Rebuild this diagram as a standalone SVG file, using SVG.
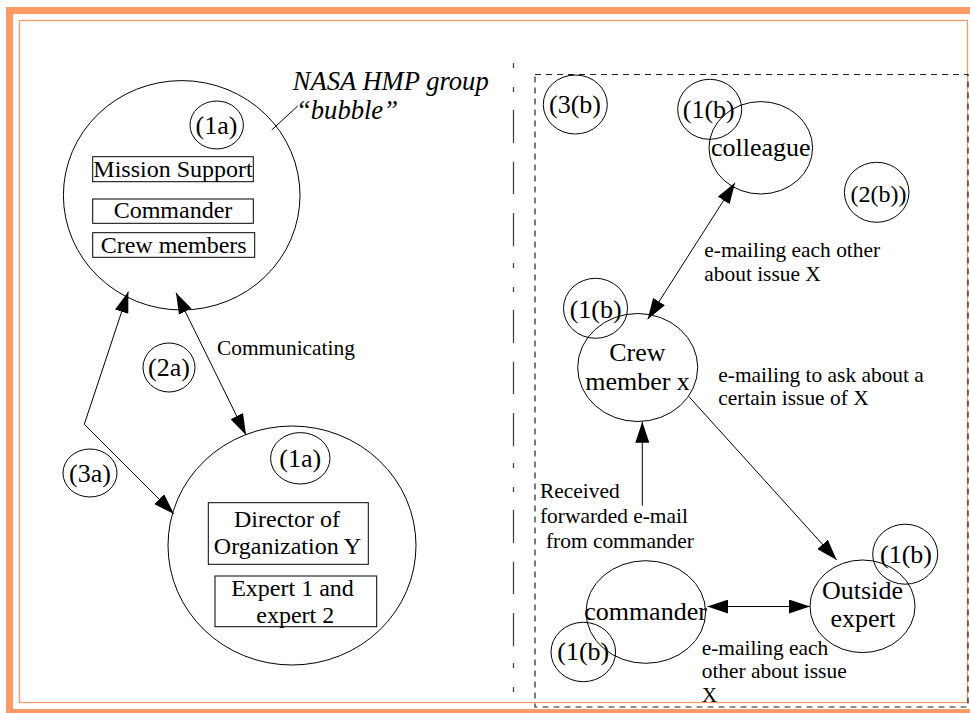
<svg xmlns="http://www.w3.org/2000/svg" width="970" height="713" viewBox="0 0 970 713">
<style>
.t{font-family:"Liberation Serif","Times New Roman",serif;fill:#000}
.n{font-size:24px}
.b{font-size:26px}
.l{font-size:21.4px}
.c{text-anchor:middle}
.sh{fill:none;stroke:#000;stroke-width:1}
.ln{fill:none;stroke:#000;stroke-width:1}
</style>
<defs>
<marker id="ah" viewBox="0 0 21 14" refX="21" refY="7" markerWidth="21" markerHeight="14" markerUnits="userSpaceOnUse" orient="auto-start-reverse">
<path d="M0,0 L21,7 L0,14 z" fill="#000"/>
</marker>
</defs>
<rect width="970" height="713" fill="#fff"/>
<g id="frame">
<rect x="9.5" y="10.5" width="975" height="702" fill="none" stroke="#FF9966" stroke-width="7"/>
<rect x="19.5" y="20.5" width="948" height="682" fill="none" stroke="#FF9966" stroke-width="1.3"/>
<line x1="513.5" y1="63" x2="513.5" y2="702" stroke="#444" stroke-width="1.3" stroke-dasharray="5 19 5 18 33 19 32 19 33 17"/>
<rect x="535" y="74.5" width="433" height="632.5" fill="none" stroke="#222" stroke-width="1.2" stroke-dasharray="6 5"/>
</g>
<g id="nasa-bubble">
<ellipse class="sh" cx="181.7" cy="195.3" rx="118.3" ry="114.7"/>
<ellipse class="sh" cx="216.7" cy="125" rx="26.7" ry="24"/>
<text class="t b c" x="216.5" y="133.5">(1a)</text>
<rect class="sh" x="92.7" y="156.7" width="160.6" height="25"/>
<text class="t n c" x="173" y="176.7">Mission Support</text>
<rect class="sh" x="92.7" y="199" width="160.6" height="24.3"/>
<text class="t n c" x="173" y="218">Commander</text>
<rect class="sh" x="92.7" y="232.7" width="162" height="24.6"/>
<text class="t n c" x="173.7" y="252.7">Crew members</text>
</g>
<g id="bubble-label">
<text class="t" x="292.7" y="90" font-size="26.6" font-style="italic">NASA HMP group</text>
<text class="t" x="296" y="119.3" font-size="26.6" font-style="italic">“bubble”</text>
<line class="ln" x1="271.7" y1="130" x2="297.7" y2="106"/>
</g>
<g id="org-y">
<ellipse class="sh" cx="292" cy="545.5" rx="124" ry="119.5"/>
<ellipse class="sh" cx="300.3" cy="458.3" rx="29.7" ry="25.7"/>
<text class="t b c" x="300.3" y="466.7">(1a)</text>
<rect class="sh" x="208.3" y="502.7" width="160" height="61.6"/>
<text class="t n c" x="287" y="526.7">Director of</text>
<text class="t n c" x="287.5" y="554.3">Organization Y</text>
<rect class="sh" x="215" y="576" width="161.7" height="50.7"/>
<text class="t n c" x="292.5" y="596">Expert 1 and</text>
<text class="t n c" x="295.3" y="622.7">expert 2</text>
</g>
<g id="label-2a">
<ellipse class="sh" cx="169" cy="367.5" rx="26" ry="24.5"/>
<text class="t b c" x="169" y="376">(2a)</text>
</g>
<g id="label-3a">
<ellipse class="sh" cx="90" cy="473" rx="27" ry="24"/>
<text class="t b c" x="90" y="481.5">(3a)</text>
</g>
<g id="label-3b">
<ellipse class="sh" cx="575.3" cy="104.5" rx="32" ry="29.5"/>
<text class="t b c" x="575" y="113.3">(3(b)</text>
</g>
<g id="label-2b">
<ellipse class="sh" cx="876.7" cy="192.3" rx="32.3" ry="30"/>
<text class="t n c" x="878.5" y="201.7">(2(b))</text>
</g>
<g id="colleague">
<ellipse class="sh" cx="709.7" cy="109.3" rx="32" ry="30"/>
<text class="t b c" x="708.8" y="118.3">(1(b)</text>
<ellipse class="sh" cx="760.8" cy="147.8" rx="51.8" ry="46.2"/>
<text class="t b c" x="760.8" y="156">colleague</text>
</g>
<g id="crew-member">
<ellipse class="sh" cx="595.5" cy="308.3" rx="32" ry="30"/>
<text class="t b c" x="595.7" y="318.3">(1(b)</text>
<ellipse class="sh" cx="637.7" cy="367.5" rx="60" ry="54"/>
<text class="t b c" x="637.3" y="361">Crew</text>
<text class="t b c" x="637.5" y="390">member x</text>
</g>
<g id="commander">
<ellipse class="sh" cx="645.8" cy="612" rx="59.8" ry="51.3"/>
<text class="t b c" x="645.5" y="620">commander</text>
<ellipse class="sh" cx="583.3" cy="652" rx="32.3" ry="29.7"/>
<text class="t b c" x="583.3" y="660">(1(b)</text>
</g>
<g id="outside-expert">
<ellipse class="sh" cx="862.5" cy="606.3" rx="52.5" ry="46.3"/>
<text class="t b c" x="862.5" y="599.3">Outside</text>
<text class="t b c" x="863" y="626.7">expert</text>
<ellipse class="sh" cx="905.2" cy="554.2" rx="32.5" ry="30"/>
<text class="t b c" x="906" y="563.3">(1(b)</text>
</g>
<g id="connectors">
<polyline class="ln" points="128.3,291.7 84.3,424.3 174,514" marker-start="url(#ah)" marker-end="url(#ah)"/>
<line class="ln" x1="176" y1="292.7" x2="246" y2="435" marker-start="url(#ah)" marker-end="url(#ah)"/>
<line class="ln" x1="735" y1="182.7" x2="647.7" y2="319.3" marker-start="url(#ah)" marker-end="url(#ah)"/>
<line class="ln" x1="689" y1="396.7" x2="836.7" y2="560" marker-end="url(#ah)"/>
<line class="ln" x1="642.3" y1="505.7" x2="642.3" y2="421.7" marker-end="url(#ah)"/>
<line class="ln" x1="707.3" y1="606.5" x2="810" y2="606.5" marker-start="url(#ah)" marker-end="url(#ah)"/>
</g>
<g id="connector-labels">
<text class="t l" x="217" y="355">Communicating</text>
<text class="t l" x="704.3" y="256.7">e-mailing each other</text>
<text class="t l" x="704.3" y="281">about issue X</text>
<text class="t l" x="718.3" y="381.7">e-mailing to ask about a</text>
<text class="t l" x="718.3" y="405">certain issue of X</text>
<text class="t l" x="540" y="498.3">Received</text>
<text class="t l" x="540" y="523.3">forwarded e-mail</text>
<text class="t l" x="546" y="548.3">from commander</text>
<text class="t l" x="701.7" y="655">e-mailing each</text>
<text class="t l" x="701.7" y="678.3">other about issue</text>
<text class="t l" x="701.7" y="701.7">X</text>
</g>
</svg>
